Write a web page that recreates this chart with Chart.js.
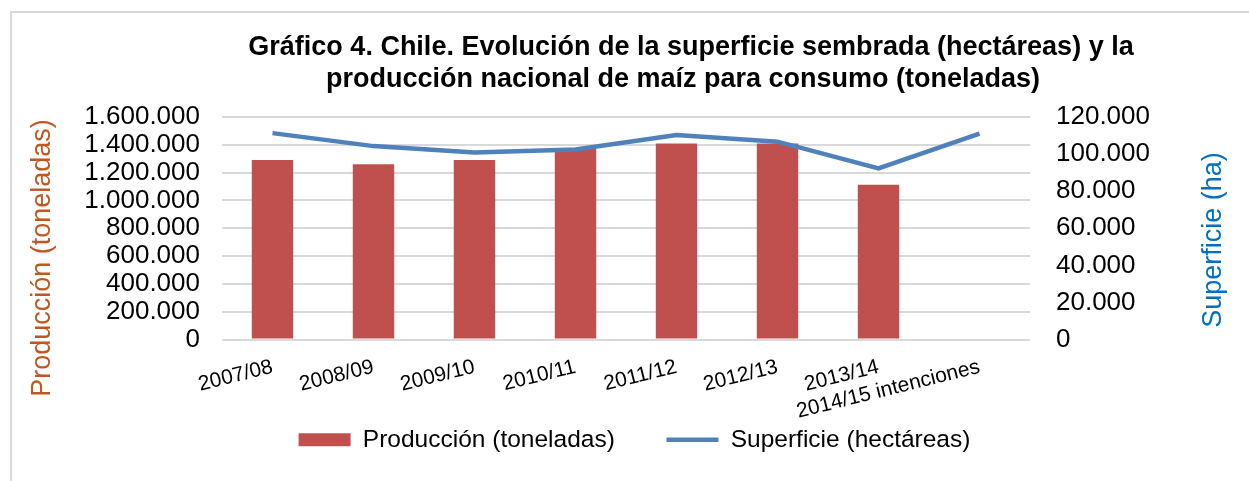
<!DOCTYPE html>
<html>
<head>
<meta charset="utf-8">
<script src="https://cdn.jsdelivr.net/npm/chart.js@4/dist/chart.umd.min.js"></script>
<style>
  html, body { margin: 0; padding: 0; background: #fff; }
  #wrap { width: 1249px; height: 481px; }
</style>
</head>
<body>
<div id="wrap"><canvas id="myChart" width="1249" height="481"></canvas></div>
<script>
// Data
const categories = ['2007/08', '2008/09', '2009/10', '2010/11', '2011/12', '2012/13', '2013/14', '2014/15 intenciones'];
const produccion = [1290000, 1260000, 1290000, 1370000, 1410000, 1410000, 1113000, null];
const superficie = [111300, 104300, 100900, 102500, 110300, 106700, 92300, 111000];
const titleLines = ['Gráfico 4. Chile. Evolución de la superficie sembrada (hectáreas) y la',
                    'producción nacional de maíz para consumo (toneladas)'];

const FONT = '"Liberation Sans", Arial, sans-serif';
const fmt = v => String(v).replace(/\B(?=(\d{3})+(?!\d))/g, '.');

// border, title and axis titles drawn on the canvas
const decorations = {
  id: 'decorations',
  beforeDraw(chart) {
    const c = chart.ctx;
    c.save();
    c.fillStyle = '#fff';
    c.fillRect(0, 0, chart.width, chart.height);
    c.strokeStyle = '#d9d9d9';
    c.lineWidth = 2;
    c.strokeRect(11, 12, chart.width + 20, chart.height + 20);
    c.restore();
  },
  afterDraw(chart) {
    const c = chart.ctx;
    c.save();
    c.fillStyle = '#000';
    c.textAlign = 'center';
    c.textBaseline = 'middle';
    c.font = 'bold 27px ' + FONT;
    c.fillText(titleLines[0], 691, 48);
    c.fillText(titleLines[1], 683, 80);

    c.font = '27px ' + FONT;
    c.save();
    c.translate(43, 258);
    c.rotate(-Math.PI / 2);
    c.fillStyle = '#c0571e';
    c.fillText('Producción (toneladas)', 0, 0);
    c.restore();

    c.save();
    c.translate(1214, 240);
    c.rotate(-Math.PI / 2);
    c.fillStyle = '#0070c0';
    c.fillText('Superficie (ha)', 0, 0);
    c.restore();
    c.restore();
  }
};

document.addEventListener('DOMContentLoaded', function () {
  const ctx = document.getElementById('myChart').getContext('2d');
  new Chart(ctx, {
    type: 'bar',
    data: {
      labels: categories,
      datasets: [{
        type: 'bar',
        label: 'Producción (toneladas)',
        data: produccion,
        backgroundColor: '#c0504d',
        borderWidth: 0,
        pointStyle: 'rect',
        yAxisID: 'y',
        categoryPercentage: 1,
        barPercentage: 0.41,
        order: 1
      }, {
        type: 'line',
        label: 'Superficie (hectáreas)',
        data: superficie,
        borderColor: '#4f81bd',
        backgroundColor: '#4f81bd',
        borderWidth: 4.5,
        pointRadius: 0,
        pointStyle: 'line',
        tension: 0,
        yAxisID: 'y1',
        order: 0
      }]
    },
    options: {
      responsive: false,
      animation: false,
      layout: { padding: { left: 20, right: 0, top: 117, bottom: 19 } },
      plugins: {
        title: { display: false },
        tooltip: { enabled: false },
        legend: {
          position: 'bottom',
          labels: {
            usePointStyle: true,
            pointStyleWidth: 52,
            boxHeight: 13,
            padding: 4,
            color: '#000',
            font: { family: FONT, size: 24.5 },
            sort: (a, b) => a.datasetIndex - b.datasetIndex,
            generateLabels: chart => {
              const items = Chart.defaults.plugins.legend.labels.generateLabels(chart);
              // extra gap after the first entry, as in the reference
              items.forEach(it => { if (it.datasetIndex === 0) it.text += '       '; });
              return items;
            }
          }
        }
      },
      scales: {
        x: {
          grid: { display: false, drawTicks: false },
          border: { display: false },
          ticks: {
            autoSkip: false,
            minRotation: 14,
            maxRotation: 14,
            padding: 15,
            color: '#000',
            font: { family: FONT, size: 21 }
          },
          afterFit: s => { s.height = 84; }
        },
        y: {
          position: 'left',
          min: 0,
          max: 1600000,
          grid: { color: '#d9d9d9', lineWidth: 2, drawTicks: false },
          border: { display: false },
          ticks: {
            autoSkip: false,
            stepSize: 200000,
            padding: 22,
            color: '#000',
            font: { family: FONT, size: 26 },
            callback: v => fmt(v)
          },
          afterFit: s => { s.width = 202; }
        },
        y1: {
          position: 'right',
          min: 0,
          max: 120000,
          grid: { drawOnChartArea: false, drawTicks: false },
          border: { display: false },
          ticks: {
            autoSkip: false,
            stepSize: 20000,
            padding: 26,
            color: '#000',
            font: { family: FONT, size: 26 },
            callback: v => fmt(v)
          },
          afterFit: s => { s.width = 219; }
        }
      }
    },
    plugins: [decorations]
  });
});
</script>
</body>
</html>
